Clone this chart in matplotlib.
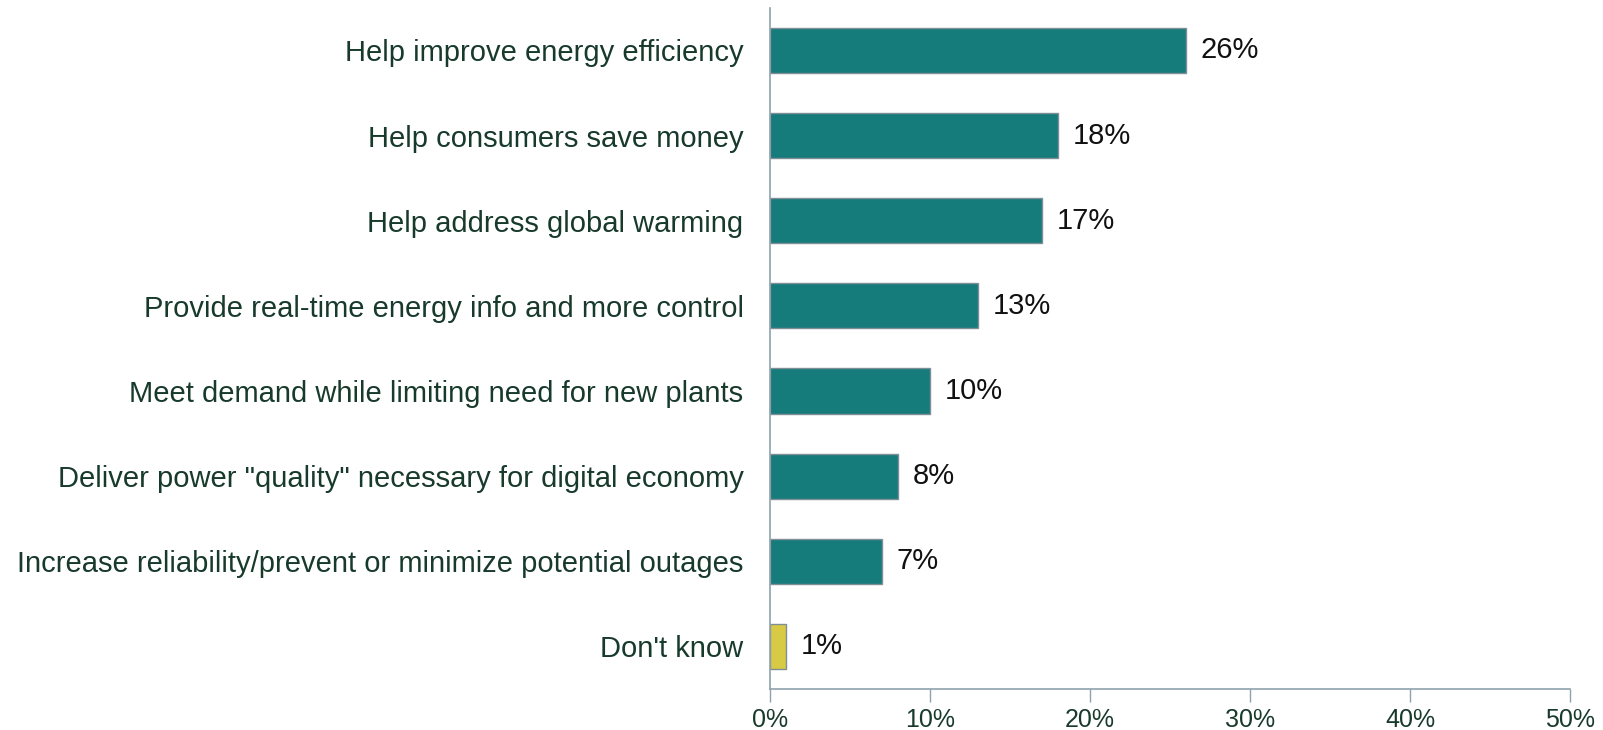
import matplotlib.pyplot as plt
from matplotlib.ticker import PercentFormatter

plt.rcParams['font.family'] = ['Liberation Sans', 'DejaVu Sans']

categories = [
    "Help improve energy efficiency",
    "Help consumers save money",
    "Help address global warming",
    "Provide real-time energy info and more control",
    "Meet demand while limiting need for new plants",
    "Deliver power \"quality\" necessary for digital economy",
    "Increase reliability/prevent or minimize potential outages",
    "Don't know",
]
values = [26, 18, 17, 13, 10, 8, 7, 1]
bar_colors = ["#167b7b"] * 7 + ["#d8ca45"]

TEXT_GREEN = "#183a2c"
AXIS_GRAY = "#8fa2ab"

fig = plt.figure(figsize=(16.03, 7.30), dpi=100)
ax = fig.add_axes([0.4803, 0.0562, 0.4991, 0.933])

y = list(range(len(categories)))
ax.barh(y, values, height=0.53, color=bar_colors, edgecolor="#7f8f96", linewidth=1)

for yi, v in zip(y, values):
    ax.text(v + 0.9, yi, f"{v}%", va="center", ha="left", fontsize=21, color="#111111")

ax.set_xlim(0, 50)
ax.set_ylim(len(categories) - 0.5, -0.5)
ax.set_xticks(range(0, 51, 10))
ax.xaxis.set_major_formatter(PercentFormatter(decimals=0))
ax.set_yticks(y)
ax.set_yticklabels(categories)

ax.tick_params(axis="y", length=0, pad=19, labelsize=21, labelcolor=TEXT_GREEN)
ax.tick_params(axis="x", length=9, width=1, color=AXIS_GRAY, pad=5, labelsize=18, labelcolor=TEXT_GREEN)

for side in ["top", "right"]:
    ax.spines[side].set_visible(False)
for side in ["left", "bottom"]:
    ax.spines[side].set_color(AXIS_GRAY)
    ax.spines[side].set_linewidth(1.2)

fig.savefig("out.png", dpi=100)
